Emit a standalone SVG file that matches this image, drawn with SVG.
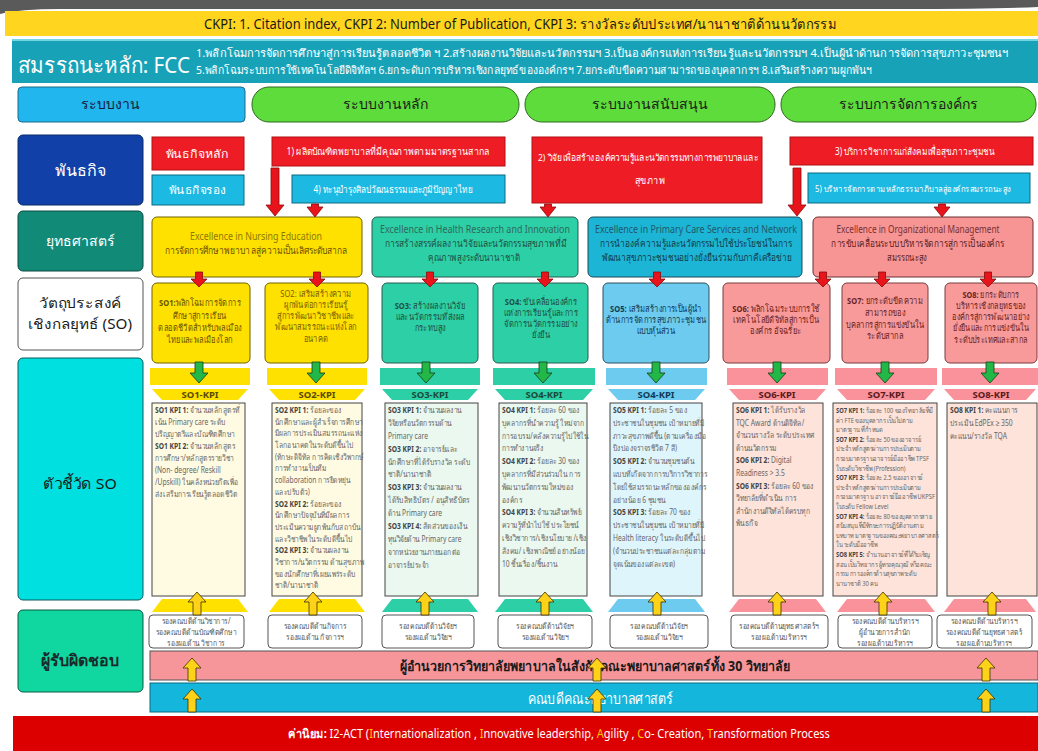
<svg xmlns="http://www.w3.org/2000/svg" width="1038" height="751" viewBox="0 0 1038 751">
<style>
text{font-family:"Noto Sans","Liberation Sans",sans-serif;}
.c{text-anchor:middle;}
.k{font-size:8.4px;fill:#666;}
.k7{font-size:7.2px;fill:#666;}
.kb{font-weight:bold;fill:#444;}
.so{font-size:9.4px;text-anchor:middle;}
.st{font-size:10px;text-anchor:middle;}
.rs{font-size:8.2px;fill:#555;text-anchor:middle;}
.kl{font-size:9.5px;font-weight:bold;text-anchor:middle;}
.ra{fill:#e8141c;stroke:#8a0a0a;stroke-width:0.8;}
.ga{fill:#22b848;stroke:#1a3a1a;stroke-width:0.8;}
.ya{fill:#ffd21a;stroke:#3a3000;stroke-width:0.8;}
.yb{fill:#ffe100;stroke:#6e6200;stroke-width:1;}
.gb{fill:#2dcfa6;stroke:#275d50;stroke-width:1;}
.bb{fill:#6ccbef;stroke:#2f4f5f;stroke-width:1;}
.pb{fill:#f89a9a;stroke:#7a3a3a;stroke-width:1;}
.yk{fill:#fffbe3;stroke:#444;stroke-width:1;}
.gk{fill:#eaf8ef;stroke:#444;stroke-width:1;}
.bk{fill:#dff5fc;stroke:#444;stroke-width:1;}
.pk{fill:#fde3da;stroke:#444;stroke-width:1;}
.rsb{fill:#fff;stroke:#555;stroke-width:1;}
.pill{fill:#5edc3c;stroke:#2e6a1e;stroke-width:1;}
.mr{fill:#ee1c24;stroke:#b01010;stroke-width:1;}
.mc{fill:#1cb9e3;stroke:#0a6a80;stroke-width:1;}
.wt{fill:#fff;}
</style>
<defs>
<path id="redS" d="M-3.5,0 H3.5 V7 H8 L0,15 L-8,7 H-3.5 Z"/>
<path id="grnD" d="M-4,0 H4 V11 H9 L0,21 L-9,11 H-4 Z"/>
<path id="ylwU" d="M-4,23 H4 V10 H9 L0,0 L-9,10 H-4 Z"/>
</defs>

<!-- header -->
<g id="header">
<path d="M0,0 H1038 V7 Q1000,9 900,9 H60 Q20,9 0,14 Z" fill="#5a5a5a"/>
<rect x="5" y="11" width="1033" height="25" fill="#ffd51f"/>
<text x="520" y="29" class="c" font-size="14" fill="#1a1a1a" textLength="632" lengthAdjust="spacingAndGlyphs">CKPI: 1. Citation index, CKPI 2: Number of Publication, CKPI 3: รางวัลระดับประเทศ/นานาชาติด้านนวัตกรรม</text>
</g>
<g id="fcc">
<rect x="12" y="39" width="1026" height="44" fill="#18a2b8"/>
<line x1="12" y1="40" x2="1038" y2="40" stroke="#8fe6f0" stroke-width="1.5"/>
<text x="18" y="73" font-size="22" class="wt" textLength="172" lengthAdjust="spacingAndGlyphs">สมรรถนะหลัก: FCC</text>
<text x="196" y="57" font-size="11" class="wt" textLength="812" lengthAdjust="spacingAndGlyphs">1.พลิกโฉมการจัดการศึกษาสู่การเรียนรู้ตลอดชีวิต ฯ 2.สร้างผลงานวิจัยและนวัตกรรมฯ 3.เป็นองค์กรแห่งการเรียนรู้และนวัตกรรมฯ 4.เป็นผู้นำด้านการจัดการสุขภาวะชุมชนฯ</text>
<text x="196" y="74" font-size="11" class="wt" textLength="676" lengthAdjust="spacingAndGlyphs">5.พลิกโฉมระบบการใช้เทคโนโลยีดิจิทัลฯ 6.ยกระดับการบริหารเชิงกลยุทธ์ขององค์กรฯ 7.ยกระดับขีดความสามารถของบุคลากรฯ 8.เสริมสร้างความผูกพันฯ</text>
</g>

<!-- row labels -->
<g id="lbl-system">
<rect x="18" y="87" width="227" height="35" rx="4" fill="#21b6ee" stroke="#1a6a8a"/>
<text x="110" y="109" class="c" font-size="14" fill="#1a1a40">ระบบงาน</text>
</g>
<g id="lbl-mission">
<rect x="18" y="135" width="125" height="70" rx="5" fill="#1040a8" stroke="#0a2a6a"/>
<text x="80" y="176" class="c" font-size="16" fill="#fff">พันธกิจ</text>
</g>
<g id="lbl-strategy">
<rect x="18" y="211" width="125" height="60" rx="5" fill="#128a78" stroke="#0a4a40"/>
<text x="80" y="246" class="c" font-size="14" fill="#fff">ยุทธศาสตร์</text>
</g>
<g id="lbl-so">
<rect x="18" y="278" width="125" height="72" rx="5" fill="#fff" stroke="#555"/>
<text x="80" y="308" class="c" font-size="14" fill="#1a1a1a" textLength="82" lengthAdjust="spacingAndGlyphs">วัตถุประสงค์</text>
<text x="80" y="329" class="c" font-size="14" fill="#1a1a1a" textLength="104" lengthAdjust="spacingAndGlyphs">เชิงกลยุทธ์ (SO)</text>
</g>
<g id="lbl-kpi">
<rect x="18" y="358" width="125" height="242" rx="5" fill="#00e0e0" stroke="#0a5a5a"/>
<text x="80" y="489" class="c" font-size="15" fill="#1a1a1a" textLength="74" lengthAdjust="spacingAndGlyphs">ตัวชี้วัด SO</text>
</g>
<g id="lbl-resp">
<rect x="18" y="610" width="125" height="82" rx="5" fill="#10d6a0" stroke="#0a5a40"/>
<text x="80" y="666" class="c" font-size="16" font-weight="bold" fill="#1a2a2a" textLength="78" lengthAdjust="spacingAndGlyphs">ผู้รับผิดชอบ</text>
</g>

<!-- system pills -->
<g id="sys-core"><rect x="252" y="87" width="267" height="35" rx="17" class="pill"/><text x="385" y="109" class="c" font-size="14" fill="#1a1a1a">ระบบงานหลัก</text></g>
<g id="sys-support"><rect x="525" y="87" width="250" height="35" rx="17" class="pill"/><text x="650" y="109" class="c" font-size="14" fill="#1a1a1a">ระบบงานสนับสนุน</text></g>
<g id="sys-org"><rect x="781" y="87" width="255" height="35" rx="17" class="pill"/><text x="908" y="109" class="c" font-size="14" fill="#1a1a1a">ระบบการจัดการองค์กร</text></g>

<!-- missions -->
<g id="m-main"><rect x="152" y="137" width="92" height="33" class="mr"/><text x="197" y="158" class="c wt" font-size="11" textLength="63" lengthAdjust="spacingAndGlyphs">พันธกิจหลัก</text></g>
<g id="m-sub"><rect x="152" y="175" width="92" height="30" class="mc"/><text x="197" y="194" class="c wt" font-size="11" textLength="57" lengthAdjust="spacingAndGlyphs">พันธกิจรอง</text></g>
<g id="m1"><rect x="272" y="137" width="233" height="29" class="mr"/><text x="388" y="155" class="c wt" font-size="10" textLength="203" lengthAdjust="spacingAndGlyphs">1) ผลิตบัณฑิตพยาบาลที่มีคุณภาพตามมาตรฐานสากล</text></g>
<g id="m4"><rect x="292" y="175" width="213" height="28" class="mc"/><text x="393" y="193" class="c wt" font-size="10" textLength="159" lengthAdjust="spacingAndGlyphs">4) ทะนุบำรุงศิลปวัฒนธรรมและภูมิปัญญาไทย</text></g>
<g id="m2"><rect x="532" y="137" width="230" height="66" class="mr"/><text x="648" y="161" class="c wt" font-size="9.5" textLength="220" lengthAdjust="spacingAndGlyphs">2) วิจัยเพื่อสร้างองค์ความรู้และนวัตกรรมทางการพยาบาลและ</text><text x="650" y="184" class="c wt" font-size="10" textLength="30" lengthAdjust="spacingAndGlyphs">สุขภาพ</text></g>
<g id="m3"><rect x="790" y="137" width="243" height="28" class="mr"/><text x="915" y="155" class="c wt" font-size="10" textLength="160" lengthAdjust="spacingAndGlyphs">3) บริการวิชาการแก่สังคมเพื่อสุขภาวะชุมชน</text></g>
<g id="m5"><rect x="808" y="173" width="222" height="30" class="mc"/><text x="913" y="192" class="c wt" font-size="8.5" textLength="196" lengthAdjust="spacingAndGlyphs">5) บริหารจัดการตามหลักธรรมาภิบาลสู่องค์กรสมรรถนะสูง</text></g>

<!-- strategies -->
<g id="s-nursing"><rect x="152" y="217" width="210" height="60" rx="5" class="yb"/>
<text x="256" y="240" class="st" fill="#8c7a00" textLength="132" lengthAdjust="spacingAndGlyphs">Excellence in Nursing Education</text>
<text x="256" y="254" class="st" fill="#6a5000" textLength="183" lengthAdjust="spacingAndGlyphs">การจัดการศึกษาพยาบาลสู่ความเป็นเลิศระดับสากล</text></g>
<g id="s-research"><rect x="372" y="217" width="206" height="60" rx="5" class="gb"/>
<text x="475" y="233" class="st" fill="#2f6a5c" font-size="9.5" textLength="190" lengthAdjust="spacingAndGlyphs">Excellence in Health Research and Innovation</text>
<text x="476" y="247" class="st" fill="#1f4f40" font-size="9.5" textLength="182" lengthAdjust="spacingAndGlyphs">การสร้างสรรค์ผลงานวิจัยและนวัตกรรมสุขภาพที่มี</text>
<text x="474" y="261" class="st" fill="#1f4f40" textLength="92" lengthAdjust="spacingAndGlyphs">คุณภาพสูงระดับนานาชาติ</text></g>
<g id="s-primary"><rect x="588" y="217" width="214" height="60" rx="5" fill="#1db5d5" stroke="#1a4a5a"/>
<text x="696" y="233" class="st" fill="#1f5a6a" font-size="9.5" textLength="202" lengthAdjust="spacingAndGlyphs">Excellence in Primary Care Services and Network</text>
<text x="696" y="247" class="st" fill="#123a4a" font-size="9" textLength="192" lengthAdjust="spacingAndGlyphs">การนำองค์ความรู้และนวัตกรรมไปใช้ประโยชน์ในการ</text>
<text x="697" y="261" class="st" fill="#123a4a" font-size="9" textLength="190" lengthAdjust="spacingAndGlyphs">พัฒนาสุขภาวะชุมชนอย่างยั่งยืนร่วมกับภาคีเครือข่าย</text></g>
<g id="s-org"><rect x="813" y="217" width="220" height="60" rx="5" fill="#f79595" stroke="#6a3030"/>
<text x="918" y="233" class="st" fill="#7a3030" font-size="9.5" textLength="163" lengthAdjust="spacingAndGlyphs">Excellence in Organizational Management</text>
<g transform="translate(918,0) scale(0.82,1)"><text x="0" y="247" class="st" fill="#5a2020">การขับเคลื่อนระบบบริหารจัดการสู่การเป็นองค์กร</text></g>
<text x="907" y="261" class="st" fill="#5a2020" textLength="40" lengthAdjust="spacingAndGlyphs">สมรรถนะสูง</text></g>

<!-- SO boxes -->
<g id="so1"><rect x="152" y="283" width="98" height="80" rx="5" class="yb"/>
<g transform="translate(200,0) scale(0.8,1)" class="so" fill="#6a5200">
<text x="0" y="306"><tspan font-weight="bold">SO1:</tspan>พลิกโฉมการจัดการ</text>
<text x="0" y="319">ศึกษาสู่การเรียน</text>
<text x="0" y="331">ตลอดชีวิตสำหรับพลเมือง</text>
<text x="0" y="343">ไทยและพลเมืองโลก</text></g></g>
<g id="so2"><rect x="265" y="283" width="103" height="80" rx="5" class="yb"/>
<g transform="translate(316,0) scale(0.8,1)" class="so" fill="#7a6000">
<text x="0" y="297">SO2: เสริมสร้างความ</text>
<text x="0" y="308">ผูกพันต่อการเรียนรู้</text>
<text x="0" y="319">สู่การพัฒนาวิชาชีพและ</text>
<text x="0" y="330">พัฒนาสมรรถนะแห่งโลก</text>
<text x="0" y="342">อนาคต</text></g></g>
<g id="so3"><rect x="382" y="283" width="96" height="80" rx="5" class="gb"/>
<g transform="translate(430,0) scale(0.8,1)" class="so" fill="#1f4f40">
<text x="0" y="309"><tspan font-weight="bold">SO3:</tspan> สร้างผลงานวิจัย</text>
<text x="0" y="320">และนวัตกรรมที่ส่งผล</text>
<text x="0" y="331">กระทบสูง</text></g></g>
<g id="so4"><rect x="493" y="283" width="95" height="80" rx="5" class="gb"/>
<g transform="translate(541,0) scale(0.8,1)" class="so" fill="#1f4f40">
<text x="0" y="305"><tspan font-weight="bold">SO4:</tspan> ขับเคลื่อนองค์กร</text>
<text x="0" y="316">แห่งการเรียนรู้และการ</text>
<text x="0" y="327">จัดการนวัตกรรมอย่าง</text>
<text x="0" y="338">ยั่งยืน</text></g></g>
<g id="so5"><rect x="603" y="283" width="106" height="80" rx="5" class="bb"/>
<g transform="translate(656,0) scale(0.8,1)" class="so" fill="#123a55">
<text x="0" y="312"><tspan font-weight="bold">SO5:</tspan> เสริมสร้างการเป็นผู้นำ</text>
<text x="0" y="323">ด้านการจัดการสุขภาวะชุมชน</text>
<text x="0" y="334">แบบหุ้นส่วน</text></g></g>
<g id="so6"><rect x="723" y="283" width="107" height="80" rx="5" class="pb"/>
<g transform="translate(776,0) scale(0.8,1)" class="so" fill="#6a1f1f">
<text x="0" y="312"><tspan font-weight="bold">SO6:</tspan> พลิกโฉมระบบการใช้</text>
<text x="0" y="323">เทคโนโลยีดิจิทัลสู่การเป็น</text>
<text x="0" y="334">องค์กร อัจฉริยะ</text></g></g>
<g id="so7"><rect x="842" y="283" width="86" height="80" rx="5" class="pb"/>
<g transform="translate(885,0) scale(0.8,1)" class="so" fill="#6a1f1f">
<text x="0" y="304"><tspan font-weight="bold">SO7:</tspan> ยกระดับขีดความ</text>
<text x="0" y="316">สามารถของ</text>
<text x="0" y="328">บุคลากรสู่การแข่งขันใน</text>
<text x="0" y="339">ระดับสากล</text></g></g>
<g id="so8"><rect x="945" y="283" width="92" height="80" rx="5" class="pb"/>
<g transform="translate(991,0) scale(0.78,1)" class="so" fill="#6a1f1f">
<text x="0" y="298"><tspan font-weight="bold">SO8:</tspan> ยกระดับการ</text>
<text x="0" y="309">บริหารเชิงกลยุทธของ</text>
<text x="0" y="320">องค์กรสู่การพัฒนาอย่าง</text>
<text x="0" y="331">ยั่งยืนและการแข่งขันใน</text>
<text x="0" y="343">ระดับประเทศและสากล</text></g></g>

<!-- KPI bands, labels, boxes -->
<g id="kpi1">
<rect x="150" y="368" width="100" height="17" fill="#ffe100"/>
<polygon points="152,389 248,389 238,400 162,400" fill="#ffe100"/>
<text x="200" y="398" class="kl" fill="#5a4a00">SO1-KPI</text>
<rect x="152" y="403" width="93" height="193" class="yk"/>
<g transform="translate(155,0) scale(0.8,1)"><text class="k"><tspan x="0" y="413"><tspan class="kb">SO1 KPI 1:</tspan> จำนวนหลักสูตรที่</tspan><tspan x="0" y="425">เน้น Primary care ระดับ</tspan><tspan x="0" y="437">ปริญญาตรีและบัณฑิตศึกษา</tspan><tspan x="0" y="449"><tspan class="kb">SO1 KPI 2:</tspan> จำนวนหลักสูตร</tspan><tspan x="0" y="461">การศึกษา/หลักสูตรรายวิชา</tspan><tspan x="0" y="473">(Non- degree/ Reskill</tspan><tspan x="0" y="485">/Upskill) ในคลังหน่วยกิตเพื่อ</tspan><tspan x="0" y="497">ส่งเสริมการเรียนรู้ตลอดชีวิต</tspan></text></g>
<polygon points="162,599 238,599 248,612 152,612" fill="#ffe100"/>
</g>
<g id="kpi2">
<rect x="267" y="368" width="100" height="17" fill="#ffe100"/>
<polygon points="269,389 365,389 355,400 279,400" fill="#ffe100"/>
<text x="317" y="398" class="kl" fill="#5a4a00">SO2-KPI</text>
<rect x="272" y="403" width="90" height="193" class="yk"/>
<g transform="translate(275,0) scale(0.8,1)"><text class="k"><tspan x="0" y="413"><tspan class="kb">SO2 KPI 1:</tspan> ร้อยละของ</tspan><tspan x="0" y="424.7">นักศึกษาและผู้สำเร็จการศึกษา</tspan><tspan x="0" y="436.4">มีผลการประเมินสมรรถนะแห่ง</tspan><tspan x="0" y="448.1">โลกอนาคตในระดับดีขึ้นไป</tspan><tspan x="0" y="459.8">(ทักษะดิจิทัล การคิดเชิงวิพากษ์</tspan><tspan x="0" y="471.5">การทำงานเป็นทีม</tspan><tspan x="0" y="483.2">collaboration การยืดหยุ่น</tspan><tspan x="0" y="494.9">และปรับตัว)</tspan><tspan x="0" y="506.6"><tspan class="kb">SO2 KPI 2:</tspan> ร้อยละของ</tspan><tspan x="0" y="518.3">นักศึกษาปัจจุบันที่มีผลการ</tspan><tspan x="0" y="530">ประเมินความผูกพันกับสถาบัน</tspan><tspan x="0" y="541.7">และวิชาชีพในระดับดีขึ้นไป</tspan><tspan x="0" y="553.4"><tspan class="kb">SO2 KPI 3:</tspan> จำนวนผลงาน</tspan><tspan x="0" y="565.1">วิชาการ/นวัตกรรม ด้านสุขภาพ</tspan><tspan x="0" y="576.8">ของนักศึกษาที่เผยแพร่ระดับ</tspan><tspan x="0" y="588.5">ชาติ/นานาชาติ</tspan></text></g>
<polygon points="279,599 355,599 365,612 269,612" fill="#ffe100"/>
</g>
<g id="kpi3">
<rect x="380" y="368" width="100" height="17" fill="#2dcfa6"/>
<polygon points="382,389 478,389 468,400 392,400" fill="#2dcfa6"/>
<text x="430" y="398" class="kl" fill="#1a4a3a">SO3-KPI</text>
<rect x="385" y="403" width="93" height="193" class="gk"/>
<g transform="translate(388,0) scale(0.8,1)"><text class="k"><tspan x="0" y="413"><tspan class="kb">SO3 KPI 1:</tspan> จำนวนผลงาน</tspan><tspan x="0" y="425.9">วิจัยหรือนวัตกรรมด้าน</tspan><tspan x="0" y="438.8">Primary care</tspan><tspan x="0" y="451.7"><tspan class="kb">SO3 KPI 2:</tspan> อาจารย์และ</tspan><tspan x="0" y="464.6">นักศึกษาที่ได้รับรางวัล ระดับ</tspan><tspan x="0" y="477.5">ชาติ/นานาชาติ</tspan><tspan x="0" y="490.4"><tspan class="kb">SO3 KPI 3:</tspan> จำนวนผลงาน</tspan><tspan x="0" y="503.3">ได้รับสิทธิบัตร / อนุสิทธิบัตร</tspan><tspan x="0" y="516.2">ด้าน Primary care</tspan><tspan x="0" y="529.1"><tspan class="kb">SO3 KPI 4:</tspan> สัดส่วนของเงิน</tspan><tspan x="0" y="542">ทุนวิจัยด้าน Primary care</tspan><tspan x="0" y="554.9">จากหน่วยงานภายนอกต่อ</tspan><tspan x="0" y="567.8">อาจารย์ประจำ</tspan></text></g>
<polygon points="392,599 468,599 478,612 382,612" fill="#2dcfa6"/>
</g>
<g id="kpi4">
<rect x="493" y="368" width="102" height="17" fill="#2dcfa6"/>
<polygon points="495,389 593,389 583,400 505,400" fill="#2dcfa6"/>
<text x="544" y="398" class="kl" fill="#1a4a3a">SO4-KPI</text>
<rect x="499" y="403" width="88" height="193" class="gk"/>
<g transform="translate(502,0) scale(0.8,1)"><text class="k"><tspan x="0" y="413"><tspan class="kb">SO4 KPI 1:</tspan> ร้อยละ 60 ของ</tspan><tspan x="0" y="425.8">บุคลากรที่นำความรู้ ใหม่จาก</tspan><tspan x="0" y="438.6">การอบรม/คลังความรู้ไปใช้ใน</tspan><tspan x="0" y="451.4">การทำงานจริง</tspan><tspan x="0" y="464.2"><tspan class="kb">SO4 KPI 2:</tspan> ร้อยละ 30 ของ</tspan><tspan x="0" y="477">บุคลากรที่มีส่วนร่วมใน การ</tspan><tspan x="0" y="489.8">พัฒนานวัตกรรมใหม่ของ</tspan><tspan x="0" y="502.6">องค์กร</tspan><tspan x="0" y="515.4"><tspan class="kb">SO4 KPI 3:</tspan> จำนวนสินทรัพย์</tspan><tspan x="0" y="528.2">ความรู้ที่นำไปใช้ ประโยชน์</tspan><tspan x="0" y="541">เชิงวิชาการ/เชิงนโยบาย /เชิง</tspan><tspan x="0" y="553.8">สังคม/ เชิงพาณิชย์ อย่างน้อย</tspan><tspan x="0" y="566.6">10 ชิ้นเรื่อง/ชิ้นงาน</tspan></text></g>
<polygon points="505,599 583,599 593,612 495,612" fill="#2dcfa6"/>
</g>
<g id="kpi5">
<rect x="606" y="368" width="101" height="17" fill="#6ccbef"/>
<polygon points="608,389 705,389 695,400 618,400" fill="#6ccbef"/>
<text x="656" y="398" class="kl" fill="#123a55">SO4-KPI</text>
<rect x="610" y="403" width="92" height="193" class="bk"/>
<g transform="translate(613,0) scale(0.8,1)"><text class="k"><tspan x="0" y="413"><tspan class="kb">SO5 KPI 1:</tspan> ร้อยละ 5 ของ</tspan><tspan x="0" y="425.8">ประชาชนในชุมชน เป้าหมายที่มี</tspan><tspan x="0" y="438.6">ภาวะสุขภาพดีขึ้น (ตามเครื่องมือ</tspan><tspan x="0" y="451.4">ปิงปองจราจรชีวิต 7 สี)</tspan><tspan x="0" y="464.2"><tspan class="kb">SO5 KPI 2:</tspan> จำนวนชุมชนต้น</tspan><tspan x="0" y="477">แบบที่เกิดจากการบริการวิชาการ</tspan><tspan x="0" y="489.8">โดยใช้สมรรถนะหลักขององค์กร</tspan><tspan x="0" y="502.6">อย่างน้อย 6 ชุมชน</tspan><tspan x="0" y="515.4"><tspan class="kb">SO5 KPI 3:</tspan> ร้อยละ 70 ของ</tspan><tspan x="0" y="528.2">ประชาชนในชุมชน เป้าหมายที่มี</tspan><tspan x="0" y="541">Health literacy ในระดับดีขึ้นไป</tspan><tspan x="0" y="553.8">(จำนวนประชาชนแต่ละกลุ่มตาม</tspan><tspan x="0" y="566.6">จุดเน้นของแต่ละเขต)</tspan></text></g>
<polygon points="618,599 695,599 705,612 608,612" fill="#6ccbef"/>
</g>
<g id="kpi6">
<rect x="727" y="368" width="101" height="17" fill="#f9929a"/>
<polygon points="729,389 826,389 816,400 739,400" fill="#f9929a"/>
<text x="777" y="398" class="kl" fill="#5a1a1a">SO6-KPI</text>
<rect x="733" y="403" width="90" height="193" class="pk"/>
<g transform="translate(736,0) scale(0.8,1)"><text class="k"><tspan x="0" y="413"><tspan class="kb">SO6 KPI 1:</tspan> ได้รับรางวัล</tspan><tspan x="0" y="425.6">TQC Award ด้านดิจิทัล/</tspan><tspan x="0" y="438.2">จำนวนรางวัล ระดับประเทศ</tspan><tspan x="0" y="450.8">ด้านนวัตกรรม</tspan><tspan x="0" y="463.4"><tspan class="kb">SO6 KPI 2:</tspan> Digital</tspan><tspan x="0" y="476">Readiness &gt; 3.5</tspan><tspan x="0" y="488.6"><tspan class="kb">SO6 KPI 3:</tspan> ร้อยละ 60 ของ</tspan><tspan x="0" y="501.2">วิทยาลัยที่ดำเนิน การ</tspan><tspan x="0" y="513.8">สำนักงานดิจิทัลได้ครบทุก</tspan><tspan x="0" y="526.4">พันธกิจ</tspan></text></g>
<polygon points="739,599 816,599 826,612 729,612" fill="#f9929a"/>
</g>
<g id="kpi7">
<rect x="835" y="368" width="102" height="17" fill="#f9929a"/>
<polygon points="837,389 935,389 925,400 847,400" fill="#f9929a"/>
<text x="886" y="398" class="kl" fill="#5a1a1a">SO7-KPI</text>
<rect x="833" y="403" width="104" height="193" class="pk"/>
<g transform="translate(836,0) scale(0.8,1)"><text class="k7"><tspan x="0" y="413"><tspan class="kb">SO7 KPI 1:</tspan> ร้อยละ 100 ของวิทยาลัยที่มี</tspan><tspan x="0" y="422.6">ค่า FTE ของบุคลากร เป็นไปตาม</tspan><tspan x="0" y="432.2">มาตรฐาน ที่กำหนด</tspan><tspan x="0" y="441.8"><tspan class="kb">SO7 KPI 2:</tspan> ร้อยละ 50 ของอาจารย์</tspan><tspan x="0" y="451.4">ประจำหลักสูตรผ่านการประเมินตาม</tspan><tspan x="0" y="461">กรอบมาตรฐานอาจารย์มืออาชีพ TPSF</tspan><tspan x="0" y="470.6">ในระดับวิชาชีพ (Profession)</tspan><tspan x="0" y="480.2"><tspan class="kb">SO7 KPI 3:</tspan> ร้อยละ 2.5 ของอาจารย์</tspan><tspan x="0" y="489.8">ประจำหลักสูตรผ่านการประเมินตาม</tspan><tspan x="0" y="499.4">กรอบมาตรฐาน อาจารย์มืออาชีพ UKPSF</tspan><tspan x="0" y="509">ในระดับ Fellow Level</tspan><tspan x="0" y="518.6"><tspan class="kb">SO7 KPI 4:</tspan> ร้อยละ 80 ของบุคลากรสาย</tspan><tspan x="0" y="528.2">สนับสนุน ที่มีทักษะการปฏิบัติงานตาม</tspan><tspan x="0" y="537.8">บทบาท มาตรฐานของคณะพยาบาลศาสตร์</tspan><tspan x="0" y="547.4">ใน ระดับมืออาชีพ</tspan><tspan x="0" y="557"><tspan class="kb">SO8 KPI 5:</tspan> จำนวนอาจารย์ที่ได้รับเชิญ</tspan><tspan x="0" y="566.6">สอน เป็นวิทยากร ผู้ทรงคุณวุฒิ หรือคณะ</tspan><tspan x="0" y="576.2">กรรม การองค์กรด้านสุขภาพระดับ</tspan><tspan x="0" y="585.8">นานาชาติ 30 คน</tspan></text></g>
<polygon points="847,599 925,599 935,612 837,612" fill="#f9929a"/>
</g>
<g id="kpi8">
<rect x="942" y="368" width="96" height="17" fill="#f9929a"/>
<polygon points="944,389 1036,389 1026,400 954,400" fill="#f9929a"/>
<text x="991" y="398" class="kl" fill="#5a1a1a">SO8-KPI</text>
<rect x="947" y="403" width="90" height="193" class="pk"/>
<g transform="translate(950,0) scale(0.8,1)"><text class="k"><tspan x="0" y="413"><tspan class="kb">SO8 KPI 1:</tspan> คะแนนการ</tspan><tspan x="0" y="426">ประเมิน EdPEx ≥ 350</tspan><tspan x="0" y="439">คะแนน/รางวัล TQA</tspan></text></g>
<polygon points="954,599 1026,599 1036,612 944,612" fill="#f9929a"/>
</g>

<!-- responsible boxes -->
<g id="r1"><rect x="149" y="615" width="95" height="33" rx="4" class="rsb"/><g transform="translate(196,0) scale(0.82,1)"><text class="rs"><tspan x="0" y="624">รองคณบดีด้านวิชาการ/</tspan><tspan x="0" y="635">รองคณบดีด้านบัณฑิตศึกษา</tspan><tspan x="0" y="646">รองผอ.ด้าน วิชาการ</tspan></text></g></g>
<g id="r2"><rect x="268" y="615" width="94" height="33" rx="4" class="rsb"/><g transform="translate(315,0) scale(0.82,1)"><text class="rs"><tspan x="0" y="629">รองคณบดีด้านกิจการ</tspan><tspan x="0" y="640">รองผอ.ด้าน กิจการฯ</tspan></text></g></g>
<g id="r3"><rect x="382" y="615" width="92" height="33" rx="4" class="rsb"/><g transform="translate(428,0) scale(0.82,1)"><text class="rs"><tspan x="0" y="629">รองคณบดีด้านวิจัยฯ</tspan><tspan x="0" y="640">รองผอ.ด้านวิจัยฯ</tspan></text></g></g>
<g id="r4"><rect x="498" y="615" width="94" height="33" rx="4" class="rsb"/><g transform="translate(545,0) scale(0.82,1)"><text class="rs"><tspan x="0" y="629">รองคณบดีด้านวิจัยฯ</tspan><tspan x="0" y="640">รองผอ.ด้านวิจัยฯ</tspan></text></g></g>
<g id="r5"><rect x="610" y="615" width="98" height="33" rx="4" class="rsb"/><g transform="translate(659,0) scale(0.82,1)"><text class="rs"><tspan x="0" y="629">รองคณบดีด้านวิจัยฯ</tspan><tspan x="0" y="640">รองผอ.ด้านวิจัยฯ</tspan></text></g></g>
<g id="r6"><rect x="731" y="615" width="97" height="33" rx="4" class="rsb"/><g transform="translate(779,0) scale(0.82,1)"><text class="rs"><tspan x="0" y="629">รองคณบดีด้านยุทธศาสตร์ฯ</tspan><tspan x="0" y="640">รองผอ.ด้านบริหารฯ</tspan></text></g></g>
<g id="r7"><rect x="838" y="615" width="94" height="33" rx="4" class="rsb"/><g transform="translate(885,0) scale(0.82,1)"><text class="rs"><tspan x="0" y="624">รองคณบดีด้านบริหารฯ</tspan><tspan x="0" y="635">ผู้อำนวยการสำนัก</tspan><tspan x="0" y="646">รองผอ.ด้านบริหารฯ</tspan></text></g></g>
<g id="r8"><rect x="937" y="615" width="95" height="33" rx="4" class="rsb"/><g transform="translate(984,0) scale(0.82,1)"><text class="rs"><tspan x="0" y="624">รองคณบดีด้านบริหารฯ</tspan><tspan x="0" y="635">รองคณบดีด้านยุทธศาสตร์</tspan><tspan x="0" y="646">รองผอ.ด้านบริหารฯ</tspan></text></g></g>

<!-- bottom bands -->
<g id="directors"><rect x="150" y="651" width="888" height="29" fill="#f7969a" stroke="#555"/><text x="595" y="671" class="c" font-size="14" font-weight="bold" fill="#1a1a1a" textLength="390" lengthAdjust="spacingAndGlyphs">ผู้อำนวยการวิทยาลัยพยาบาลในสังกัดคณะพยาบาลศาสตร์ทั้ง 30 วิทยาลัย</text></g>
<g id="dean"><rect x="150" y="683" width="888" height="29" fill="#14b6dc" stroke="#0a6a80"/><text x="600" y="704" class="c wt" font-size="15" textLength="145" lengthAdjust="spacingAndGlyphs">คณบดีคณะพยาบาลศาสตร์</text></g>
<g id="values"><rect x="13" y="716" width="1025" height="35" fill="#dd0000"/>
<g transform="translate(559,0) scale(0.88,1)"><text x="0" y="738" class="c wt" font-size="12.5"><tspan font-weight="bold">ค่านิยม: </tspan>I2-ACT (<tspan fill="#ffc400">I</tspan>nternationalization , <tspan fill="#ffc400">I</tspan>nnovative leadership,  <tspan fill="#ffc400">A</tspan>gility , <tspan fill="#ffc400">C</tspan>o- Creation,  <tspan fill="#ffc400">T</tspan>ransformation Process</text></g></g>

<!-- connectors -->
<g id="connectors">
<path class="ra" d="M271,168 H279 V205 H284 L275,216 L266,205 H271 Z"/>
<path class="ra" d="M311.5,204 H318.5 V207 H323 L315,217 L307,207 H311.5 Z"/>
<path class="ra" d="M544.5,204 H551.5 V207 H556 L548,217 L540,207 H544.5 Z"/>
<path class="ra" d="M793,168 H801 V205 H806 L797,216 L788,205 H793 Z"/>
<path class="ra" d="M938.5,204 H945.5 V207 H950 L942,217 L934,207 H938.5 Z"/>
<use href="#redS" class="ra" x="199" y="272"/>
<use href="#redS" class="ra" x="317" y="272"/>
<use href="#redS" class="ra" x="430" y="272"/>
<use href="#redS" class="ra" x="545" y="272"/>
<use href="#redS" class="ra" x="657" y="272"/>
<use href="#redS" class="ra" x="823" y="272"/>
<use href="#redS" class="ra" x="882" y="272"/>
<use href="#redS" class="ra" x="988" y="272"/>
<use href="#grnD" class="ga" x="199" y="362"/>
<use href="#grnD" class="ga" x="316" y="362"/>
<use href="#grnD" class="ga" x="426" y="362"/>
<use href="#grnD" class="ga" x="543" y="362"/>
<use href="#grnD" class="ga" x="656" y="362"/>
<use href="#grnD" class="ga" x="777" y="362"/>
<use href="#grnD" class="ga" x="885" y="362"/>
<use href="#grnD" class="ga" x="990" y="362"/>
<use href="#ylwU" class="ya" x="197" y="592"/>
<use href="#ylwU" class="ya" x="313" y="592"/>
<use href="#ylwU" class="ya" x="425" y="592"/>
<use href="#ylwU" class="ya" x="545" y="592"/>
<use href="#ylwU" class="ya" x="657" y="592"/>
<use href="#ylwU" class="ya" x="777" y="592"/>
<use href="#ylwU" class="ya" x="883" y="592"/>
<use href="#ylwU" class="ya" x="992" y="592"/>
<use href="#ylwU" class="ya" x="192" y="658"/>
<use href="#ylwU" class="ya" x="597" y="658"/>
<use href="#ylwU" class="ya" x="986" y="658"/>
<use href="#ylwU" class="ya" x="192" y="689"/>
<use href="#ylwU" class="ya" x="597" y="689"/>
<use href="#ylwU" class="ya" x="986" y="689"/>
</g>
</svg>
